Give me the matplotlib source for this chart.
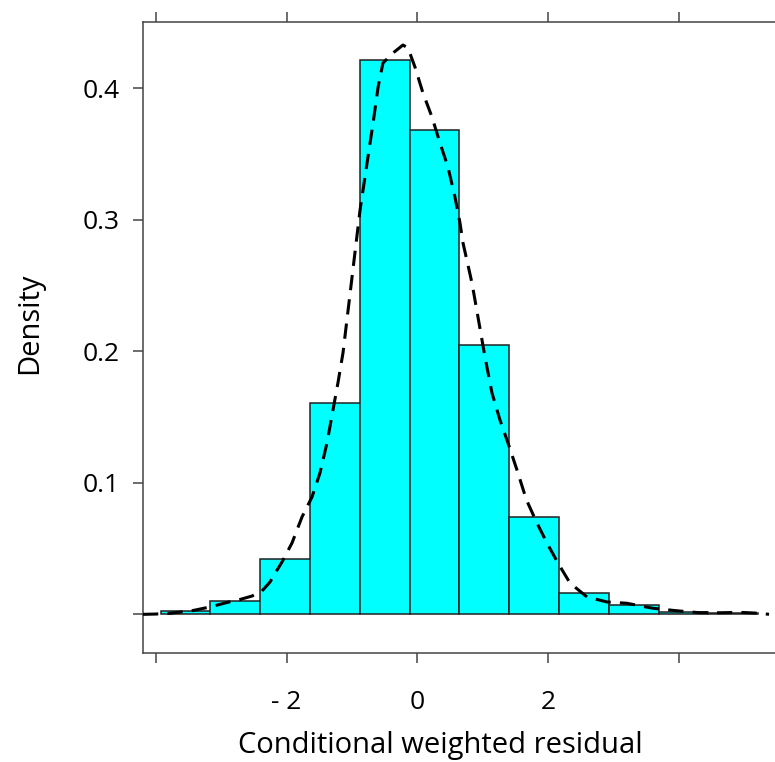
import numpy as np
import matplotlib
matplotlib.use("Agg")
import matplotlib.pyplot as plt

# Histogram of conditional weighted residuals (density scale)
bin_start = -3.927
bin_width = 0.7615
bin_density = [0.0027, 0.0099, 0.0418, 0.1607, 0.4215, 0.3683,
               0.2048, 0.0742, 0.0160, 0.0071, 0.0015, 0.0008]

# Kernel density estimate overlaid as a dashed line
kde_x = [-4.197, -4.014, -3.784, -3.433, -3.173, -2.913, -2.714, -2.531,
         -2.378, -2.255, -2.072, -1.919, -1.766, -1.613, -1.491, -1.384,
         -1.292, -1.216, -1.139, -0.878, -0.771, -0.679, -0.602, -0.528,
         -0.375, -0.222, -0.145, -0.038, 0.084, 0.222, 0.344, 0.466,
         0.573, 0.650, 0.696, 0.833, 0.925, 1.032, 1.139, 1.261, 1.384,
         1.521, 1.667, 1.827, 1.980, 2.148, 2.332, 2.592, 2.898, 3.203,
         3.601, 3.968, 4.319, 4.625, 4.931, 5.237, 5.375]
kde_y = [0.0000, 0.0002, 0.0008, 0.0029, 0.0056, 0.0090, 0.0113, 0.0139,
         0.0177, 0.0246, 0.0398, 0.0542, 0.0740, 0.0892, 0.1075, 0.1303,
         0.1554, 0.1760, 0.1988, 0.3075, 0.3432, 0.3736, 0.4010, 0.4192,
         0.4268, 0.4329, 0.4306, 0.4161, 0.3964, 0.3781, 0.3584, 0.3401,
         0.3173, 0.2976, 0.2824, 0.2520, 0.2261, 0.1957, 0.1683, 0.1478,
         0.1303, 0.1098, 0.0869, 0.0694, 0.0542, 0.0390, 0.0238, 0.0132,
         0.0094, 0.0084, 0.0046, 0.0027, 0.0012, 0.0012, 0.0015, 0.0008,
         0.0000]

x_ticks = [-4, -2, 0, 2, 4]
x_tick_labels = ["", "- 2", "0", "2", ""]
y_ticks = [0.0, 0.1, 0.2, 0.3, 0.4]
y_tick_labels = ["", "0.1", "0.2", "0.3", "0.4"]

plt.rcParams['font.family'] = ['Open Sans', 'DejaVu Sans']

W, H = 775, 762
fig = plt.figure(figsize=(W / 100, H / 100), dpi=100)
ax = fig.add_axes([143 / W, (H - 653) / H, 640 / W, 631 / H])

edges = bin_start + bin_width * np.arange(len(bin_density))
ax.bar(edges, bin_density, width=bin_width, align='edge',
       color='#00FFFF', edgecolor='#222222', linewidth=1.1, zorder=2)

ax.plot(kde_x, kde_y, color='black', linewidth=2.2, dashes=(5.0, 3.0),
        zorder=3)

ax.set_xlim(-4.197, 5.589)
ax.set_ylim(-0.0294, 0.4504)

axis_col = '#444444'
for side in ['left', 'bottom', 'top', 'right']:
    ax.spines[side].set_color(axis_col)
    ax.spines[side].set_linewidth(1.1)

ax.set_xticks(x_ticks)
ax.set_xticklabels(x_tick_labels)
ax.set_yticks(y_ticks)
ax.set_yticklabels(y_tick_labels)
ax.tick_params(axis='x', which='both', direction='out', length=7.5,
               width=1.1, color=axis_col, labelsize=19, pad=19,
               top=True, labeltop=False, bottom=True)
ax.tick_params(axis='y', which='both', direction='out', length=7.5,
               width=1.1, color=axis_col, labelsize=19, pad=9,
               right=False)

# Axis titles placed in pixel terms relative to the figure
ax.set_xlabel("Conditional weighted residual", fontsize=21,
              va='center', ha='center')
ax.set_ylabel("Density", fontsize=21, va='center', ha='center')
to_axes = fig.transFigure + ax.transAxes.inverted()
xl = to_axes.transform((440 / W, (H - 746) / H))
yl = to_axes.transform((30 / W, (H - 323) / H))
ax.xaxis.set_label_coords(xl[0], xl[1])
ax.yaxis.set_label_coords(yl[0], yl[1])

fig.savefig("out.png", dpi=100)
